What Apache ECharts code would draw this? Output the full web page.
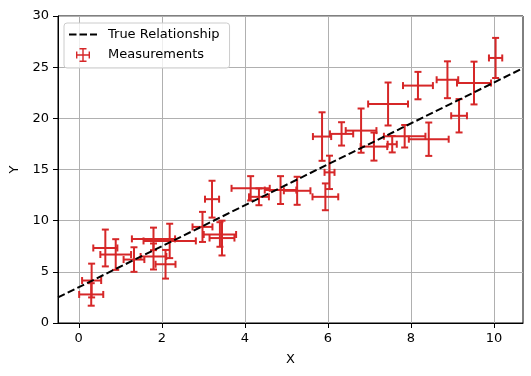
<!DOCTYPE html>
<html>
<head>
<meta charset="utf-8">
<script src="https://cdn.jsdelivr.net/npm/echarts@6/dist/echarts.min.js"></script>
<style>
  html, body { margin: 0; padding: 0; background: #fff; }
  #chart { width: 531px; height: 376px; }
</style>
</head>
<body>
<div id="chart"></div>
<script>
// ── Datos ─────────────────────────────────────────────────────────────────
const xVals = [0.30, 0.31, 0.64, 0.89, 1.33, 1.80, 1.80, 2.19, 2.09, 2.98, 3.21, 3.40, 3.45, 4.14, 4.34, 4.86,
               5.26, 5.94, 6.04, 5.86, 6.33, 6.80, 7.11, 7.45, 7.55, 7.85, 8.43, 8.17, 8.88, 9.16, 9.52, 10.04];
const yVals = [2.79, 4.15, 7.33, 6.69, 6.20, 8.22, 6.50, 8.02, 5.74, 9.39, 12.10, 8.65, 8.30, 13.16, 12.33, 12.99,
               12.92, 12.33, 14.72, 18.22, 18.48, 18.80, 17.24, 21.40, 17.47, 18.25, 17.96, 23.20, 23.77, 20.25, 23.45, 25.90];
const xErr  = [0.29, 0.23, 0.29, 0.37, 0.25, 0.52, 0.31, 0.63, 0.24, 0.24, 0.17, 0.39, 0.30, 0.46, 0.24, 0.38,
               0.32, 0.31, 0.12, 0.22, 0.28, 0.37, 0.32, 0.48, 0.11, 0.50, 0.48, 0.36, 0.26, 0.19, 0.41, 0.16];
const yErr  = [1.10, 1.65, 1.80, 1.50, 1.20, 1.10, 1.27, 1.68, 1.40, 1.47, 1.80, 1.20, 1.70, 1.19, 0.82, 1.36,
               1.37, 1.31, 1.63, 2.37, 1.14, 2.16, 1.37, 2.10, 0.80, 1.10, 1.63, 1.34, 1.80, 1.63, 2.09, 1.96];

const lineX = [-0.5, 10.7];
const lineY = [2.5, 24.9];

const xTicks = [0, 2, 4, 6, 8, 10];
const yTicks = [0, 5, 10, 15, 20, 25, 30];

const RED  = '#d62728';
const FONT = 'DejaVu Sans';

// iconos de la leyenda (rellenos): cruz con topes y línea discontinua
const ERRBAR_ICON = 'path://M0,9H20V11H0Z M9,0H11V20H9Z M0,5H2V15H0Z M18,5H20V15H18Z M5,0H15V2H5Z M5,18H15V20H5Z';
const DASH_ICON   = 'path://M0,0H7.5V2H0Z M10.5,0H18V2H10.5Z M21,0H28V2H21Z';

const chart = echarts.init(document.getElementById('chart'), null, { renderer: 'canvas' });

function axisCommon() {
  return {
    axisLine: { show: true, onZero: false, lineStyle: { color: '#000', width: 1 } },
    axisTick: { show: true, inside: false, length: 5, lineStyle: { color: '#000', width: 1 } },
    axisLabel: { color: '#000', fontSize: 13, fontFamily: FONT, margin: 9 },
    splitLine: { show: true, lineStyle: { color: '#b0b0b0', width: 1 } },
    nameTextStyle: { color: '#000', fontSize: 13, fontFamily: FONT },
  };
}

const errData = xVals.map((x, i) => [x, yVals[i], xErr[i], yErr[i]]);

function renderErrBar(params, api) {
  const x = api.value(0), y = api.value(1), dx = api.value(2), dy = api.value(3);
  const l = api.coord([x - dx, y]);
  const r = api.coord([x + dx, y]);
  const t = api.coord([x, y + dy]);
  const b = api.coord([x, y - dy]);
  const cap = 3.5;
  const style = { stroke: RED, lineWidth: 2 };
  const seg = (x1, y1, x2, y2) => ({ type: 'line', shape: { x1, y1, x2, y2 }, style });
  return {
    type: 'group',
    children: [
      seg(l[0], l[1], r[0], r[1]),
      seg(t[0], t[1], b[0], b[1]),
      seg(l[0], l[1] - cap, l[0], l[1] + cap),
      seg(r[0], r[1] - cap, r[0], r[1] + cap),
      seg(t[0] - cap, t[1], t[0] + cap, t[1]),
      seg(b[0] - cap, b[1], b[0] + cap, b[1]),
    ],
  };
}

const xa = axisCommon();
const ya = axisCommon();

chart.setOption({
  animation: false,
  textStyle: { fontFamily: FONT },
  grid: { left: 58, right: 8, top: 16, bottom: 53, show: true, borderColor: '#000', borderWidth: 1, backgroundColor: 'transparent' },
  legend: {
    orient: 'vertical',
    left: 64,
    top: 23,
    itemWidth: 28,
    itemHeight: 14,
    itemGap: 7,
    padding: [5, 10, 6, 5],
    backgroundColor: 'rgba(255,255,255,0.8)',
    borderColor: '#cccccc',
    borderWidth: 1,
    borderRadius: 3,
    textStyle: { color: '#000', fontSize: 13, fontFamily: FONT, padding: [0, 0, 0, 6] },
    data: [
      { name: 'True Relationship', icon: DASH_ICON, itemStyle: { color: '#000' } },
      { name: 'Measurements', icon: ERRBAR_ICON },
    ],
  },
  xAxis: {
    ...xa,
    type: 'value',
    min: lineX[0],
    max: lineX[1],
    splitNumber: 5,
    name: 'X',
    nameLocation: 'middle',
    nameGap: 30,
    axisTick: { ...xa.axisTick, customValues: xTicks },
    axisLabel: { ...xa.axisLabel, customValues: xTicks },
  },
  yAxis: {
    ...ya,
    type: 'value',
    min: 0,
    max: 30,
    interval: 5,
    name: 'Y',
    nameLocation: 'middle',
    nameGap: 37,
    axisTick: { ...ya.axisTick, customValues: yTicks },
    axisLabel: { ...ya.axisLabel, customValues: yTicks },
  },
  series: [
    {
      name: 'Measurements',
      type: 'custom',
      data: errData,
      encode: { x: 0, y: 1 },
      itemStyle: { color: RED },
      renderItem: renderErrBar,
      z: 2,
    },
    {
      name: 'True Relationship',
      type: 'line',
      data: lineX.map((x, i) => [x, lineY[i]]),
      symbol: 'none',
      itemStyle: { color: '#000' },
      lineStyle: { color: '#000', width: 2, type: [7.5, 3.3] },
      z: 3,
    },
  ],
});

window.addEventListener('resize', () => chart.resize());
</script>
</body>
</html>
